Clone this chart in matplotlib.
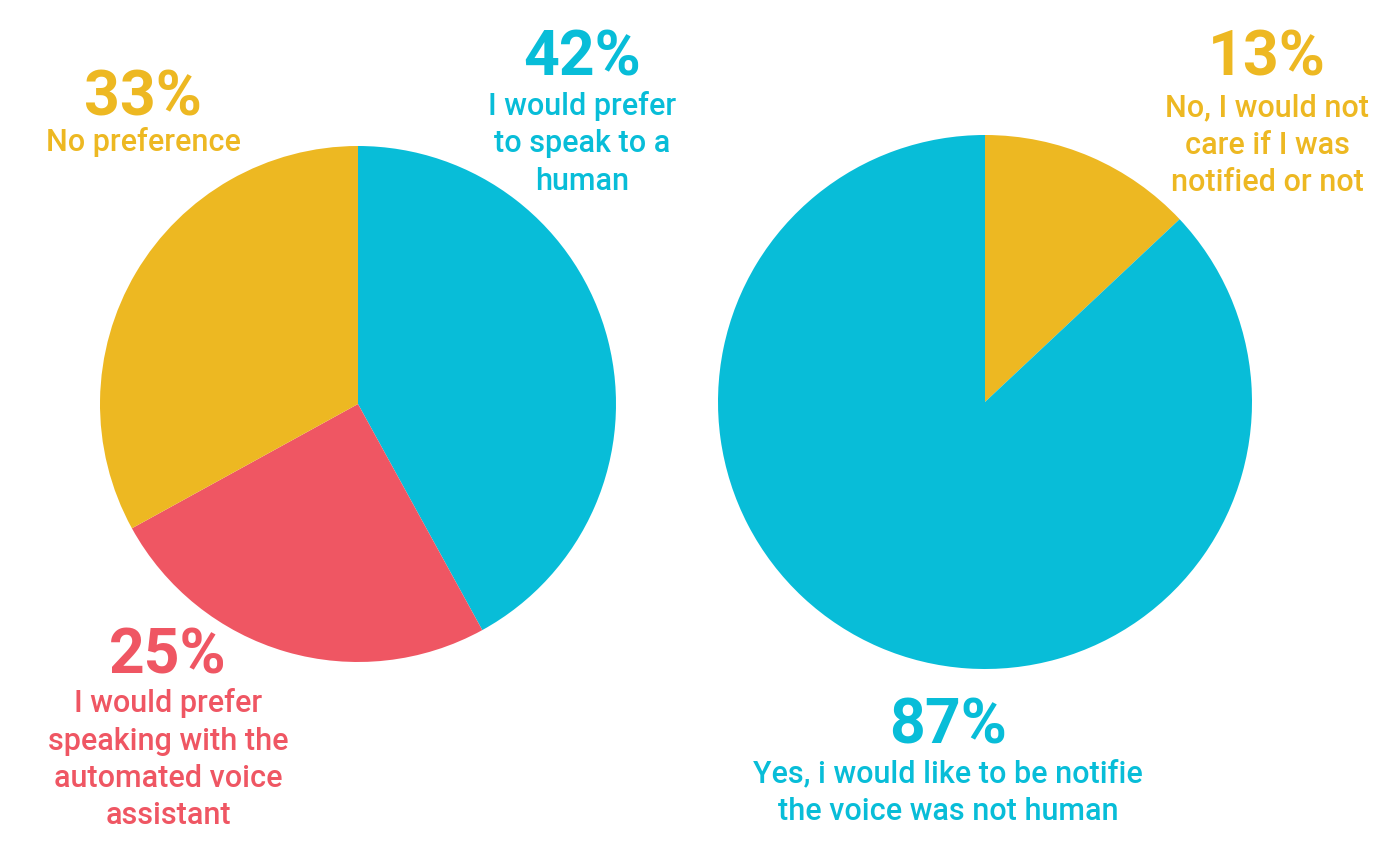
import matplotlib
matplotlib.use('Agg')
import matplotlib.pyplot as plt

plt.rcParams['font.family'] = ['Roboto', 'DejaVu Sans']

# 数据
left_labels = ['I would prefer\nto speak to a\nhuman',
               'I would prefer\nspeaking with the\nautomated voice\nassistant',
               'No preference']
left_values = [42, 25, 33]
right_labels = ['No, I would not\ncare if I was\nnotified or not',
                'Yes, i would like to be notifie\nthe voice was not human']
right_values = [13, 87]

CYAN = '#08BDD8'
YELLOW = '#EDB822'
RED = '#EF5663'
left_colors = [CYAN, RED, YELLOW]
right_colors = [YELLOW, CYAN]

W, H = 1392, 865
fig = plt.figure(figsize=(W / 100, H / 100), dpi=100)
ax = fig.add_axes([0, 0, 1, 1])

# 两个饼图 (像素坐标, y向上)
ax.pie(left_values, colors=left_colors, startangle=90, counterclock=False,
       center=(358, H - 404), radius=258, wedgeprops=dict(linewidth=0))
ax.pie(right_values, colors=right_colors, startangle=90, counterclock=False,
       center=(985, H - 402), radius=267, wedgeprops=dict(linewidth=0))

ax.set_xlim(0, W)
ax.set_ylim(0, H)
ax.set_aspect('equal')
ax.axis('off')

# 标注位置: (x中心, 百分比基线, 说明首行基线)
left_pos = [(582, 75, 115), (168, 673, 712), (143, 115, 151)]
right_pos = [(1267, 75, 116), (948, 743, 782)]
LINE_STEP = 37.5  # 行距 (像素)


def annotate(values, labels, colors, positions):
    for v, lab, c, (x, yp, yl) in zip(values, labels, colors, positions):
        ax.text(x, H - yp, f'{v}%', color=c, fontsize=45, fontweight='bold',
                ha='center', va='baseline')
        for i, line in enumerate(lab.split('\n')):
            ax.text(x, H - (yl + i * LINE_STEP), line, color=c, fontsize=22,
                    fontweight='medium', ha='center', va='baseline')


annotate(left_values, left_labels, left_colors, left_pos)
annotate(right_values, right_labels, right_colors, right_pos)

fig.savefig('out.png', dpi=100, facecolor='white')
